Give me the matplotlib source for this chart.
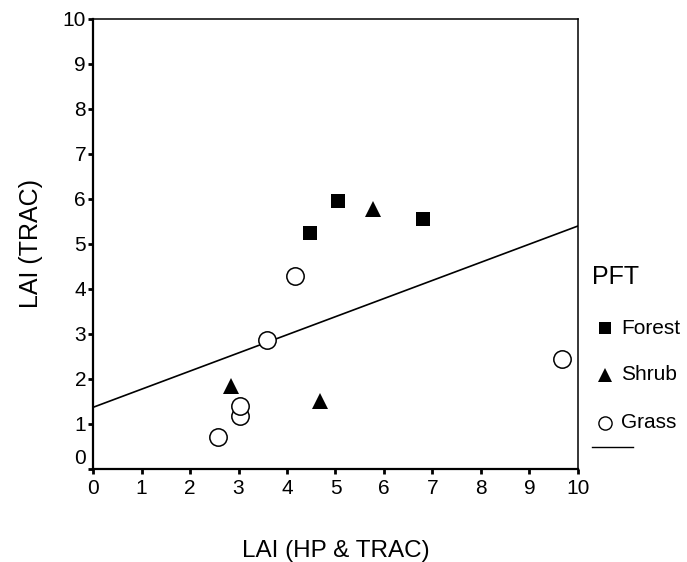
import matplotlib
matplotlib.use('Agg')
import numpy as np
import matplotlib.pyplot as plt
import matplotlib.transforms as mtransforms

plt.rcParams['font.family'] = ['Liberation Sans', 'DejaVu Sans']

# LAI values: x = LAI (HP & TRAC), y = LAI (TRAC)
forest_x = [4.47, 5.05, 6.81]
forest_y = [5.24, 5.96, 5.55]
shrub_x = [2.84, 4.69, 5.77]
shrub_y = [1.85, 1.50, 5.78]
grass_x = [2.58, 3.03, 3.03, 3.59, 4.16, 9.68]
grass_y = [0.72, 1.18, 1.40, 2.86, 4.29, 2.44]

# fitted line
fit_intercept = 1.37
fit_slope = 0.403

ticks = list(range(0, 11))

fig = plt.figure(figsize=(6.87, 5.62), dpi=100)
ax = fig.add_axes([0.1354, 0.1655, 0.7059, 0.8007])

line_x = np.array([0, 10])
ax.plot(line_x, fit_intercept + fit_slope * line_x, color='black', lw=1.2, zorder=2)

ax.plot(forest_x, forest_y, 's', color='black', ms=9.8, mew=0, zorder=3)
ax.plot(shrub_x, shrub_y, '^', color='black', ms=11, mew=0, zorder=3)
ax.plot(grass_x, grass_y, 'o', mfc='white', mec='black', ms=12.5, mew=1.1, zorder=3)

ax.set_xlim(0, 10)
ax.set_ylim(0, 10)
ax.set_xticks(ticks)
ax.set_yticks(ticks)
ax.tick_params(direction='out', length=3.5, width=2, labelsize=15, pad=1.5)
ax.tick_params(axis='x', pad=4)

for side in ['left', 'bottom']:
    ax.spines[side].set_linewidth(1.6)
for side in ['top', 'right']:
    ax.spines[side].set_linewidth(1.1)

ax.set_xlabel('LAI (HP & TRAC)', fontsize=17.5, labelpad=30)
ax.set_ylabel('LAI (TRAC)', fontsize=18, labelpad=14)

# the "0" on the y axis sits a little above its tick in the original
fig.canvas.draw()
zero_lbl = ax.get_yticklabels()[0]
zero_lbl.set_transform(zero_lbl.get_transform() +
                       mtransforms.ScaledTranslation(0, 9 / 72, fig.dpi_scale_trans))

# legend drawn at figure level
fig.text(592 / 687, 1 - 277 / 562, 'PFT', fontsize=18, va='center', ha='left')
leg_items = [('Forest', 's', 'black', 8.5), ('Shrub', '^', 'black', 10), ('Grass', 'o', 'white', 9.5)]
leg_y = [328, 375, 423]
for (name, mk, fc, ms), py in zip(leg_items, leg_y):
    yy = 1 - py / 562
    fig.add_artist(plt.Line2D([605 / 687], [yy], marker=mk, ms=ms, mfc=fc, mec='black',
                              mew=0 if fc == 'black' else 1.0, ls='none',
                              transform=fig.transFigure))
    fig.text(621 / 687, yy, name, fontsize=15, va='center', ha='left')
fig.add_artist(plt.Line2D([592 / 687, 633 / 687], [1 - 447 / 562] * 2, color='black', lw=1.0,
                          transform=fig.transFigure))

fig.savefig('out.png', dpi=100)
